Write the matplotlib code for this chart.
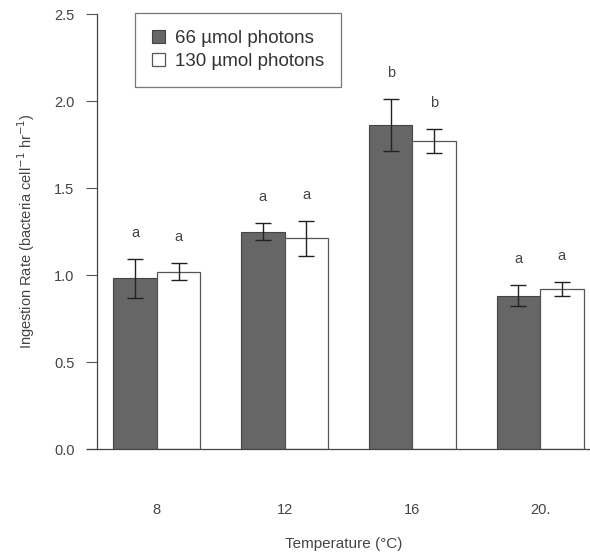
import matplotlib.pyplot as plt
import numpy as np

plt.rcParams['font.family'] = ['Liberation Sans', 'DejaVu Sans']

# data
temps = ["8", "12", "16", "20."]
low_light = [0.98, 1.25, 1.86, 0.88]
low_err = [0.11, 0.05, 0.15, 0.06]
high_light = [1.02, 1.21, 1.77, 0.92]
high_err = [0.05, 0.10, 0.07, 0.04]
low_letters = ["a", "a", "b", "a"]
high_letters = ["a", "a", "b", "a"]

x = np.arange(len(temps))
w = 0.34
txt = '#444444'

fig = plt.figure(figsize=(5.9, 5.56), dpi=100)
ax = fig.add_axes([0.164, 0.1924, 0.836, 0.7824])

ax.bar(x - w/2, low_light, w, color='#666666', edgecolor='#444444', linewidth=0.8,
       label='66 µmol photons')
ax.bar(x + w/2, high_light, w, color='white', edgecolor='#555555', linewidth=0.9,
       label='130 µmol photons')
ax.errorbar(x - w/2, low_light, yerr=low_err, fmt='none', ecolor='#222222',
            elinewidth=1, capsize=6, capthick=1)
ax.errorbar(x + w/2, high_light, yerr=high_err, fmt='none', ecolor='#222222',
            elinewidth=1, capsize=6, capthick=1)

# significance letters
for i in range(len(temps)):
    ax.text(x[i] - w/2, low_light[i] + low_err[i] + 0.15, low_letters[i],
            ha='center', va='center', fontsize=10.5, color=txt)
    ax.text(x[i] + w/2, high_light[i] + high_err[i] + 0.15, high_letters[i],
            ha='center', va='center', fontsize=10.5, color=txt)

ax.set_xlim(-0.47, 3.39)
ax.set_ylim(0, 2.5)
ax.set_yticks([0.0, 0.5, 1.0, 1.5, 2.0, 2.5])
ax.set_yticklabels(['0.0', '0.5', '1.0', '1.5', '2.0', '2.5'])
ax.set_xticks(x)
ax.set_xticklabels(temps)
ax.tick_params(axis='y', direction='out', length=8, width=0.8, colors='#555555',
               labelcolor=txt, labelsize=10.5, pad=8)
ax.tick_params(axis='x', length=0, labelcolor=txt, labelsize=10.5, pad=39)

ax.spines['top'].set_visible(False)
ax.spines['right'].set_visible(False)
ax.spines['left'].set_color('#444444')
ax.spines['bottom'].set_color('#444444')
ax.spines['left'].set_linewidth(0.9)
ax.spines['bottom'].set_linewidth(0.9)
ax.spines['bottom'].set_bounds(-0.55, 3.39)
ax.spines['bottom'].set_clip_on(False)

ax.set_ylabel('Ingestion Rate (bacteria cell$^{-1}$ hr$^{-1}$)', fontsize=10.5,
              color=txt, labelpad=12)
ax.set_xlabel('Temperature (°C)', fontsize=11, color=txt, labelpad=14)

leg = ax.legend(loc='upper left', bbox_to_anchor=(0.077, 1.002), fontsize=13.5,
                frameon=True, fancybox=False, edgecolor='#555555',
                handlelength=0.7, handleheight=0.7, handletextpad=0.55,
                borderpad=0.9, labelspacing=0.3, borderaxespad=0)
leg.get_frame().set_linewidth(0.9)
for t in leg.get_texts():
    t.set_color('#333333')

fig.savefig('out.png', dpi=100)
